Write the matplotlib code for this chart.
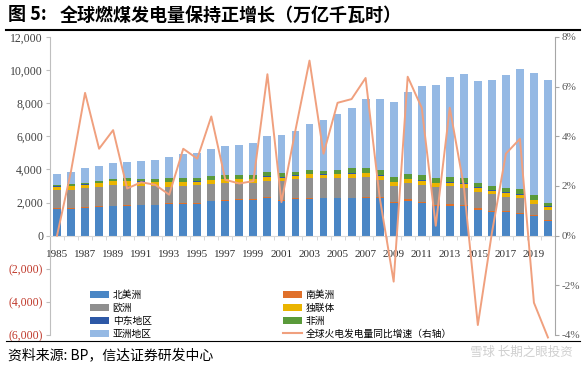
import matplotlib
matplotlib.use("Agg")
import matplotlib.pyplot as plt
from matplotlib.lines import Line2D
from matplotlib.patches import Patch
import numpy as np

plt.rcParams["font.family"] = ["Noto Sans CJK SC", "DejaVu Sans"]

years = list(range(1985, 2021))

# 燃煤发电量, 十亿千瓦时 (bottom to top of the stack)
north_america = [1620, 1620, 1680, 1760, 1780, 1800, 1840, 1840, 1920, 1920, 1920, 2080,
                 2120, 2160, 2160, 2280, 2120, 2200, 2240, 2250, 2250, 2250, 2280, 2250,
                 1980, 2120, 1980, 1780, 1820, 1780, 1575, 1410, 1410, 1310, 1170, 910]
south_america = [30, 30, 30, 30, 30, 35, 35, 35, 35, 35, 40, 40,
                 40, 45, 45, 45, 50, 50, 50, 55, 55, 55, 60, 60,
                 60, 65, 70, 75, 80, 85, 85, 80, 80, 75, 70, 65]
europe = [1080, 1120, 1160, 1140, 1240, 1180, 1140, 1140, 1000, 1060, 1110, 1010,
          1010, 940, 960, 1000, 1130, 1180, 1180, 1170, 1160, 1170, 1190, 1060,
          950, 990, 1040, 1080, 1070, 1000, 970, 1020, 840, 860, 680, 600]
cis = [230, 230, 220, 240, 240, 260, 250, 240, 280, 230, 200, 220,
       240, 250, 230, 230, 210, 200, 230, 210, 240, 260, 250, 260,
       240, 220, 230, 230, 240, 260, 240, 200, 240, 240, 220, 180]
middle_east = [10, 10, 10, 10, 10, 15, 15, 15, 20, 20, 20, 20,
               20, 25, 25, 25, 25, 25, 30, 30, 30, 35, 35, 35,
               35, 40, 40, 40, 40, 40, 40, 40, 40, 40, 40, 40]
africa = [120, 120, 110, 130, 150, 180, 170, 180, 200, 210, 180, 220,
          250, 240, 270, 270, 240, 200, 250, 210, 240, 290, 280, 310,
          290, 270, 280, 270, 280, 300, 260, 240, 280, 280, 260, 200]
asia = [650, 690, 850, 870, 910, 950, 1090, 1150, 1270, 1430, 1550, 1660,
        1710, 1810, 1890, 2140, 2280, 2440, 2770, 3050, 3370, 3680, 4160, 4280,
        4520, 4950, 5410, 5620, 6040, 6270, 6200, 6400, 6810, 7250, 7380, 7390]

# 全球火电发电量同比增速 (%)
growth = [0.0, 2.6, 5.75, 3.5, 4.25, 1.9, 2.15, 2.05, 1.65, 3.5, 3.1, 4.8,
          2.25, 2.1, 2.2, 6.5, 1.35, 4.25, 7.05, 3.3, 5.35, 5.5, 6.35, 1.55,
          -1.85, 6.4, 5.15, 0.4, 5.15, 2.0, -3.6, 0.1, 3.3, 3.9, -2.7, -4.1]

series = [
    ("北美洲", north_america, "#4a86c5"),
    ("南美洲", south_america, "#e0702a"),
    ("欧洲", europe, "#8f8f8f"),
    ("独联体", cis, "#eab400"),
    ("中东地区", middle_east, "#2d58a6"),
    ("非洲", africa, "#5a9a3a"),
    ("亚洲地区", asia, "#95b9e4"),
]
line_color = "#f0a07e"
line_label = "全球火电发电量同比增速（右轴）"
num_font = ["Liberation Serif", "DejaVu Serif"]

fig = plt.figure(figsize=(5.84, 3.70), dpi=100)
ax = fig.add_axes([0.0856, 0.0946, 0.8647, 0.8054])

x = np.arange(len(years))
bottom = np.zeros(len(years))
handles = {}
for name, vals, color in series:
    ax.bar(x, vals, 0.56, bottom=bottom, color=color, zorder=2)
    handles[name] = Patch(facecolor=color)
    bottom += np.array(vals)

# spines first: moving a spine resets the ticks
for s in ["top", "right"]:
    ax.spines[s].set_visible(False)
ax.spines["left"].set_color("#bfbfbf")
ax.spines["bottom"].set_position(("data", 0))
ax.spines["bottom"].set_color("#d9d9d9")

ax.set_xlim(-0.5, len(years) - 0.5)
ax.set_ylim(-6000, 12000)
yt = list(range(-6000, 12001, 2000))
ax.set_yticks(yt)
ylabels = [f"({-v:,})" if v < 0 else f"{v:,}" for v in yt]
ax.set_yticklabels(ylabels, family=num_font, fontsize=8.5)
for lab, v in zip(ax.get_yticklabels(), yt):
    lab.set_color("#c0392b" if v < 0 else "#404040")
ax.tick_params(axis="y", length=3, color="#bfbfbf", pad=2)

ax.set_xticks(x[::2])
ax.set_xticklabels([str(y) for y in years[::2]], family=num_font, fontsize=8, color="#303030")
ax.set_xticks(np.arange(-0.5, len(years), 1), minor=True)
ax.tick_params(axis="x", which="major", length=0, pad=10)
ax.tick_params(axis="x", which="minor", length=3, color="#d0d0d0")

ax2 = ax.twinx()
for s in ["top", "left", "bottom"]:
    ax2.spines[s].set_visible(False)
ax2.spines["right"].set_color("#a6a6a6")
ax2.plot(x, growth, color=line_color, lw=1.4, zorder=3, clip_on=False)
ax2.set_ylim(-4, 8)
rt = list(range(-4, 9, 2))
ax2.set_yticks(rt)
ax2.set_yticklabels([f"{v}%" for v in rt], family=num_font, fontsize=8, color="#595959")
ax2.tick_params(axis="y", length=3, color="#a6a6a6", pad=2)

leg_kw = dict(frameon=False, fontsize=7, handlelength=1.95, handleheight=0.7,
              handletextpad=0.4, labelspacing=0.3, borderpad=0, loc="upper left",
              bbox_transform=fig.transFigure)
left_names = ["北美洲", "欧洲", "中东地区", "亚洲地区"]
right_names = ["南美洲", "独联体", "非洲"]
leg1 = ax2.legend([handles[n] for n in left_names], left_names,
                  bbox_to_anchor=(85 / 584, 1 - 285 / 370), **leg_kw)
ax2.add_artist(leg1)
ax2.legend([handles[n] for n in right_names] + [Line2D([], [], color=line_color, lw=1.5)],
           right_names + [line_label],
           bbox_to_anchor=(278 / 584, 1 - 285 / 370), **leg_kw)

fig.text(8 / 584, 1 - 15 / 370, "图 5:", fontsize=13, fontweight="bold", va="center")
fig.text(60 / 584, 1 - 15 / 370, "全球燃煤发电量保持正增长（万亿千瓦时）",
         fontsize=13, fontweight="bold", va="center")
fig.add_artist(Line2D([6 / 584, 580 / 584], [1 - 30 / 370] * 2, color="black", lw=1.5))
fig.add_artist(Line2D([6 / 584, 580 / 584], [1 - 341 / 370] * 2, color="black", lw=0.8))
fig.text(8 / 584, 1 - 355 / 370, "资料来源: BP，信达证券研发中心", fontsize=10, va="center")
fig.text(470 / 584, 1 - 352 / 370, "雪球 长期之眼投资", fontsize=9, color="#cfcfcf", va="center")

fig.savefig("out.png", dpi=100)
